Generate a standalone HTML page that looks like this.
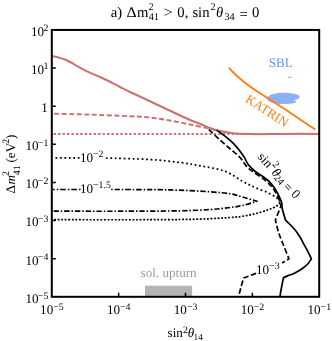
<!DOCTYPE html>
<html>
<head>
<meta charset="utf-8">
<title>a) sterile neutrino exclusion plot</title>
<style>
  html, body { margin: 0; padding: 0; background: #ffffff; }
  body { width: 332px; height: 341px; overflow: hidden; }
  svg { display: block; filter: opacity(0.9999); }
  text { font-family: "Liberation Serif", serif; fill: #000; text-rendering: geometricPrecision; }
  .it { font-style: italic; }
</style>
</head>
<body>
<svg width="332" height="341" viewBox="0 0 332 341">
<rect x="0" y="0" width="332" height="341" fill="#ffffff"/>

<rect x="145" y="285.7" width="47.1" height="11" fill="#b4b4b4"/>
<path d="M267.2,98.4 C267.2,95.4 274,92.8 283,92.8 C292,92.8 299.7,94.4 299.7,96.8 C299.7,98.8 296.5,99.7 293.2,100.2 C295.5,100.6 296.4,101.2 296.2,101.9 C295.7,103.2 290,103.9 283,103.9 C274,103.9 267.2,101.6 267.2,98.4 Z" fill="#8ab0f5"/>
<rect x="288.1" y="76.7" width="3.4" height="1.1" fill="#8ab0f5"/>
<g fill="none" stroke="#cc7070" stroke-width="2.0" stroke-linejoin="round">
<path d="M53.00,56.30 C54.00,56.52 57.00,57.07 59.00,57.60 C61.00,58.13 62.98,58.68 65.00,59.50 C67.02,60.32 69.08,61.40 71.10,62.50 C73.12,63.60 75.10,64.95 77.10,66.10 C79.10,67.25 81.10,68.37 83.10,69.40 C85.10,70.43 86.28,71.03 89.10,72.30 C91.92,73.57 96.52,75.42 100.00,77.00 C103.48,78.58 106.67,80.08 110.00,81.75 C113.33,83.42 116.67,85.29 120.00,87.00 C123.33,88.71 125.00,89.62 130.00,92.00 C135.00,94.38 143.33,98.12 150.00,101.25 C156.67,104.38 163.33,107.62 170.00,110.75 C176.67,113.88 185.00,117.83 190.00,120.00 C195.00,122.17 196.67,122.42 200.00,123.75 C203.33,125.08 206.67,126.79 210.00,128.00 C213.33,129.21 216.67,130.21 220.00,131.00 C223.33,131.79 226.67,132.29 230.00,132.75 C233.33,133.21 235.00,133.50 240.00,133.75 C245.00,134.00 252.83,134.22 260.00,134.25 C267.17,134.28 273.17,133.96 283.00,133.90 C292.83,133.84 313.00,133.90 319.00,133.90"/>
<path stroke-dasharray="5.0 2.5" stroke-dashoffset="-1.3" stroke-width="1.9" d="M53.00,113.75 C59.17,113.89 77.17,114.18 90.00,114.60 C102.83,115.02 120.00,115.77 130.00,116.25 C140.00,116.73 143.33,116.79 150.00,117.50 C156.67,118.21 163.33,119.33 170.00,120.50 C176.67,121.67 183.33,123.12 190.00,124.50 C196.67,125.88 205.33,127.67 210.00,128.75 C214.67,129.83 216.67,130.62 218.00,131.00"/>
<path stroke-dasharray="2.4 2.05" d="M53.6,133.9 L319,133.9"/>
</g>
<path d="M228.80,67.50 C229.67,68.46 232.12,71.37 234.00,73.25 C235.88,75.13 237.83,76.88 240.10,78.80 C242.37,80.72 245.10,82.92 247.60,84.80 C250.10,86.68 252.58,88.42 255.10,90.10 C257.62,91.78 260.20,93.28 262.70,94.90 C265.20,96.53 266.37,97.45 270.10,99.85 C273.83,102.25 280.10,106.04 285.10,109.30 C290.10,112.56 295.08,116.03 300.10,119.40 C305.12,122.77 312.68,127.82 315.20,129.50" fill="none" stroke="#ff7f0e" stroke-width="1.8"/>
<g fill="none" stroke="#000" stroke-width="1.7" stroke-linejoin="round">
<path d="M216.60,130.20 C217.42,130.77 219.90,132.45 221.50,133.60 C223.10,134.75 224.62,135.83 226.20,137.10 C227.78,138.37 229.47,139.78 231.00,141.20 C232.53,142.62 233.87,143.90 235.40,145.60 C236.93,147.30 238.70,149.43 240.20,151.40 C241.70,153.37 243.07,155.20 244.40,157.40 C245.73,159.60 246.43,162.29 248.20,164.60 C249.97,166.91 251.78,168.68 255.00,171.25 C258.22,173.82 264.17,177.08 267.50,180.00 C270.83,182.92 272.71,185.21 275.00,188.75 C277.29,192.29 280.03,197.92 281.25,201.25 C282.47,204.58 281.59,205.59 282.30,208.75 C283.01,211.91 284.97,218.29 285.50,220.20 C286.33,221.00 288.83,223.28 290.50,225.00 C292.17,226.72 293.92,228.50 295.50,230.50 C297.08,232.50 298.63,234.77 300.00,237.00 C301.37,239.23 302.42,241.53 303.70,243.90 C304.98,246.27 306.42,248.70 307.70,251.20 C308.98,253.70 310.78,257.62 311.40,258.90 C310.83,259.70 309.28,262.27 308.00,263.70 C306.72,265.13 305.28,266.28 303.70,267.50 C302.12,268.72 300.20,269.97 298.50,271.00 C296.80,272.03 295.25,272.93 293.50,273.70 C291.75,274.47 289.68,274.92 288.00,275.60 C286.32,276.28 284.17,277.43 283.40,277.80 C283.08,279.42 282.07,284.47 281.50,287.50 C280.93,290.53 280.25,294.58 280.00,296.00"/>
<path stroke-dasharray="5.5 2.5" d="M208.75,129.50 C210.62,131.25 216.46,136.79 220.00,140.00 C223.54,143.21 226.67,145.83 230.00,148.75 C233.33,151.67 237.20,154.53 240.00,157.50 C242.80,160.47 244.47,164.12 246.80,166.60 C249.13,169.08 250.73,169.95 254.00,172.40 C257.27,174.85 263.07,178.38 266.40,181.30 C269.73,184.22 271.75,186.53 274.00,189.90 C276.25,193.27 278.77,198.73 279.90,201.50 C281.03,204.27 280.65,205.67 280.80,206.50 C279.90,208.75 276.30,217.75 275.40,220.00 C275.93,222.08 277.27,228.33 278.60,232.50 C279.93,236.67 281.67,240.62 283.40,245.00 C285.13,249.38 288.07,256.46 289.00,258.75 C287.87,259.44 283.33,262.21 282.20,262.90"/>
<path stroke-dasharray="5.5 2.5" d="M256.00,273.40 C253.96,274.17 245.79,277.23 243.75,278.00 C243.33,279.38 242.08,283.25 241.25,286.25 C240.42,289.25 239.17,294.38 238.75,296.00"/>
<path stroke-dasharray="1.8 2.65" d="M55.5,157.9 L80.5,157.9"/>
<path stroke-dasharray="1.8 2.65" d="M106.00,158.00 C113.33,158.25 137.67,158.75 150.00,159.50 C162.33,160.25 171.25,161.38 180.00,162.50 C188.75,163.62 195.00,164.79 202.50,166.25 C210.00,167.71 218.33,168.75 225.00,171.25 C231.67,173.75 237.50,178.54 242.50,181.25 C247.50,183.96 250.83,185.62 255.00,187.50 C259.17,189.38 263.96,190.83 267.50,192.50 C271.04,194.17 274.17,195.83 276.25,197.50 C278.33,199.17 279.38,201.67 280.00,202.50"/>
<path stroke-dasharray="1.9 1.65" stroke-dashoffset="-1.2" d="M53.00,219.70 C69.17,219.70 125.50,219.80 150.00,219.70 C174.50,219.60 186.67,219.47 200.00,219.10 C213.33,218.73 222.92,217.97 230.00,217.50 C237.08,217.03 238.33,216.88 242.50,216.25 C246.67,215.62 250.83,214.79 255.00,213.75 C259.17,212.71 263.96,211.25 267.50,210.00 C271.04,208.75 274.17,207.50 276.25,206.25 C278.33,205.00 279.38,203.12 280.00,202.50"/>
<path stroke-dasharray="1.6 2.0 5.6 1.9" d="M80.5,189.5 L53,189.5"/>
<path stroke-dasharray="5.4 1.9 1.5 1.9" d="M53.60,211.20 C66.33,211.20 108.93,211.27 130.00,211.20 C151.07,211.13 166.67,211.07 180.00,210.80 C193.33,210.53 201.67,210.15 210.00,209.60 C218.33,209.05 224.58,208.18 230.00,207.50 C235.42,206.82 238.00,206.54 242.50,205.50 C247.00,204.46 254.58,201.96 257.00,201.25 C254.58,200.54 247.00,198.25 242.50,197.00 C238.00,195.75 235.42,194.62 230.00,193.75 C224.58,192.88 218.33,192.39 210.00,191.80 C201.67,191.21 190.00,190.57 180.00,190.20 C170.00,189.83 161.58,189.72 150.00,189.60 C138.42,189.48 117.08,189.52 110.50,189.50"/>
</g>
<rect x="51.8" y="29.95" width="267.40" height="266.85" fill="none" stroke="#000" stroke-width="2.0"/>
<path stroke="#000" stroke-width="1.5" fill="none" d="M52.60,68.07 h3.2 M52.60,106.19 h3.2 M52.60,144.31 h3.2 M52.60,182.44 h3.2 M52.60,220.56 h3.2 M52.60,258.68 h3.2 M118.65,296.00 v-3.2 M185.50,296.00 v-3.2 M252.35,296.00 v-3.2 "/>
<text x="31.05" y="35.85" font-size="13.1">10</text><text x="43.45" y="31.15" font-size="9.9">2</text>
<text x="31.05" y="73.97" font-size="13.1">10</text><text x="43.45" y="69.27" font-size="9.9">1</text>
<text x="25.47" y="150.21" font-size="13.1">10</text><text x="37.87" y="145.51" font-size="9.9">−1</text>
<text x="25.47" y="188.34" font-size="13.1">10</text><text x="37.87" y="183.64" font-size="9.9">−2</text>
<text x="25.47" y="226.46" font-size="13.1">10</text><text x="37.87" y="221.76" font-size="9.9">−3</text>
<text x="25.47" y="264.58" font-size="13.1">10</text><text x="37.87" y="259.88" font-size="9.9">−4</text>
<text x="25.47" y="303.40" font-size="13.1">10</text><text x="37.87" y="298.70" font-size="9.9">−5</text>
<text x="41.2" y="111.89" font-size="13.1">1</text>
<text x="40.10" y="314.40" font-size="13.1">10</text><text x="53.20" y="309.80" font-size="9.9">−5</text>
<text x="106.95" y="314.40" font-size="13.1">10</text><text x="120.05" y="309.80" font-size="9.9">−4</text>
<text x="173.80" y="314.40" font-size="13.1">10</text><text x="186.90" y="309.80" font-size="9.9">−3</text>
<text x="240.65" y="314.40" font-size="13.1">10</text><text x="253.75" y="309.80" font-size="9.9">−2</text>
<text x="307.50" y="314.40" font-size="13.1">10</text><text x="320.60" y="309.80" font-size="9.9">−1</text>
<text x="167.6" y="337.1" font-size="13.1">sin</text>
<text x="183.1" y="332.8" font-size="9.9">2</text>
<text x="187.7" y="337.1" font-size="13.1" class="it">θ</text>
<text x="193.6" y="339.5" font-size="9.3">14</text>
<g transform="translate(14.5,193.4) rotate(-90)">
<text x="0" y="0" font-size="13.1">Δ</text>
<text x="9" y="0" font-size="13.1" class="it">m</text>
<text x="17.3" y="-5.4" font-size="9.9">2</text>
<text x="18.1" y="5.0" font-size="9.9">41</text>
<text x="30.9" y="0" font-size="13.1">(eV</text>
<text x="49.6" y="-5.2" font-size="9.9">2</text>
<text x="54.3" y="0" font-size="13.1">)</text>
</g>
<text x="110.8" y="17.45" font-size="14.67">a)</text>
<text x="126.4" y="17.45" font-size="14.67" textLength="10.2" lengthAdjust="spacingAndGlyphs">Δ</text>
<text x="137.0" y="17.45" font-size="14.67">m</text>
<text x="148.4" y="10.05" font-size="10.27">2</text>
<text x="148.7" y="20.25" font-size="10.27">41</text>
<text x="163.7" y="17.45" font-size="14.67" textLength="9.1" lengthAdjust="spacingAndGlyphs">&gt;</text>
<text x="177.3" y="17.45" font-size="14.67">0,</text>
<text x="192.4" y="17.45" font-size="14.67">sin</text>
<text x="210.5" y="10.05" font-size="10.27">2</text>
<text x="216.1" y="17.45" font-size="14.67" class="it">θ</text>
<text x="224.4" y="20.25" font-size="10.27">34</text>
<text x="239.5" y="18.95" font-size="14.67">=</text>
<text x="252.0" y="17.45" font-size="14.67">0</text>
<text x="268.7" y="66.8" font-size="13.1" style="fill:#6a97ee">SBL</text>
<text transform="translate(244.6,101.2) rotate(33)" font-size="13.1" style="fill:#ff7f0e">KATRIN</text>
<text x="140.6" y="276.8" font-size="13.1" style="fill:#9a9a9a">sol. upturn</text>
<g transform="translate(256.7,156.8) rotate(47.8)">
<text x="0.6" y="0" font-size="13.1">sin</text>
<text x="16.3" y="-6.0" font-size="9.9">2</text>
<text x="21.6" y="0.3" font-size="13.1" class="it">θ</text>
<text x="27.2" y="2.0" font-size="9.9">24</text>
<text x="39.9" y="1.3" font-size="13.1">=</text>
<text x="50.5" y="0.3" font-size="13.1">0</text>
</g>
<text x="79.90" y="161.70" font-size="13.1">10</text><text x="93.00" y="156.70" font-size="9.9">−2</text>
<text x="79.90" y="192.60" font-size="13.1">10</text><text x="93.00" y="187.60" font-size="9.9">−1.5</text>
<text x="256.00" y="273.90" font-size="13.1">10</text><text x="269.10" y="268.90" font-size="9.9">−3</text>
</svg>
</body>
</html>
